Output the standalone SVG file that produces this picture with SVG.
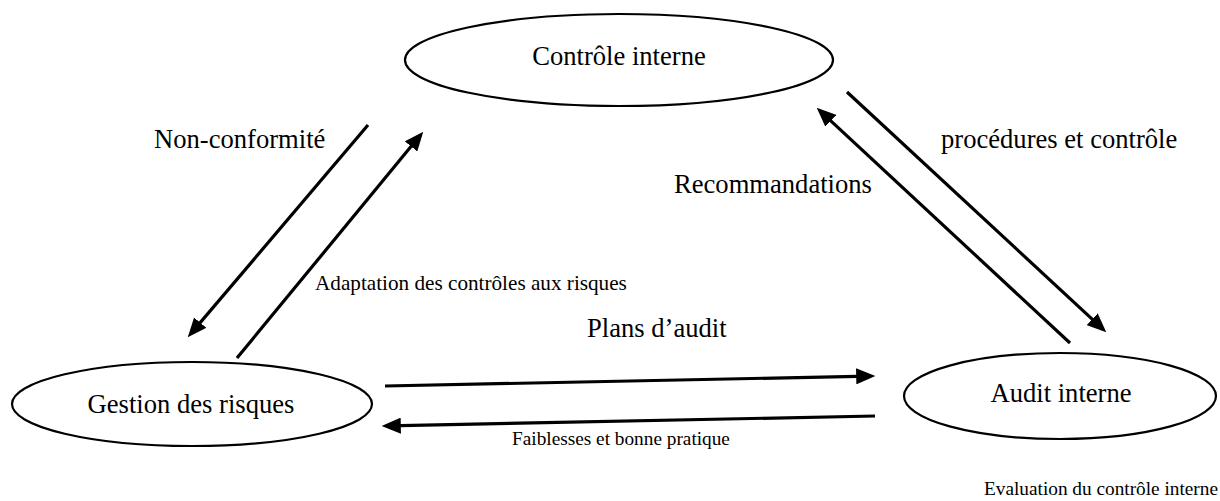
<svg xmlns="http://www.w3.org/2000/svg" width="1220" height="501" viewBox="0 0 1220 501">
  <style>
    text { font-family: 'Liberation Serif', 'DejaVu Serif', serif; fill: #000000; }
    .node { fill: #ffffff; stroke: #000000; stroke-width: 2.2; }
    .big { font-size: 26.6px; }
    .mid { font-size: 21.2px; }
    .small { font-size: 19.3px; }
    .link { stroke: #000000; stroke-width: 3.2; fill: none; marker-end: url(#head); }
  </style>
  <defs>
    <marker id="head" viewBox="0 0 6 5" refX="4" refY="2.5" markerWidth="6" markerHeight="5" orient="auto" markerUnits="strokeWidth">
      <path d="M0,0 L6,2.5 L0,5 z" fill="#000000"/>
    </marker>
  </defs>
  <rect width="1220" height="501" fill="#ffffff"/>

  <g id="controle-interne">
    <ellipse class="node" cx="619" cy="60" rx="214" ry="46"/>
    <text class="big" x="619" y="65" text-anchor="middle" font-family="Liberation Serif, serif">Contrôle interne</text>
  </g>

  <g id="gestion-risques">
    <ellipse class="node" cx="192" cy="404" rx="180" ry="42"/>
    <text class="big" x="191" y="413" text-anchor="middle" font-family="Liberation Serif, serif">Gestion des risques</text>
  </g>

  <g id="audit-interne">
    <ellipse class="node" cx="1060" cy="396" rx="156" ry="43"/>
    <text class="big" x="1061" y="402" text-anchor="middle" font-family="Liberation Serif, serif">Audit interne</text>
  </g>

  <g id="connectors">
    <line class="link" x1="368" y1="125" x2="191.9" y2="332.4"/>
    <line class="link" x1="237" y1="358" x2="419.2" y2="136.6"/>
    <line class="link" x1="847" y1="92" x2="1101.6" y2="327.9"/>
    <line class="link" x1="1070" y1="343" x2="821.4" y2="112.1"/>
    <line class="link" x1="385" y1="386" x2="869" y2="376.1"/>
    <line class="link" x1="875" y1="416" x2="388" y2="425.9"/>
  </g>

  <g id="labels" font-family="Liberation Serif, serif">
    <text class="big" x="154" y="148">Non-conformité</text>
    <text class="big" x="941" y="148">procédures et contrôle</text>
    <text class="big" x="674" y="193">Recommandations</text>
    <text class="mid" x="315" y="290">Adaptation des contrôles aux risques</text>
    <text class="big" x="587" y="337">Plans d’audit</text>
    <text class="small" x="512" y="445">Faiblesses et bonne pratique</text>
    <text class="small" x="1218" y="495" text-anchor="end">Evaluation du contrôle interne</text>
  </g>
</svg>
